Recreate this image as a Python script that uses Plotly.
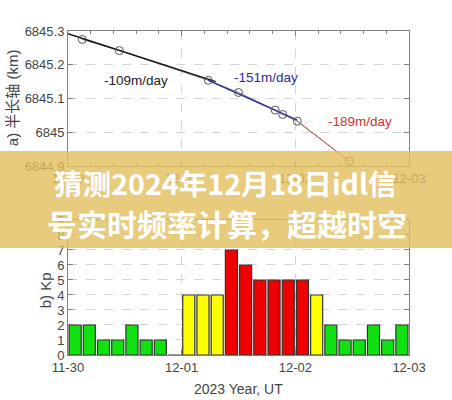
import plotly.graph_objects as go

# ---- data: semi-major axis (km) ----
sma_time = ["2023-11-30 03:00", "2023-11-30 10:50", "2023-12-01 05:37", "2023-12-01 12:00",
            "2023-12-01 19:45", "2023-12-01 21:20", "2023-12-02 00:25", "2023-12-02 11:22"]
sma_km = [6845.275, 6845.242, 6845.154, 6845.118, 6845.066, 6845.053, 6845.033, 6844.915]

fit1_time = ["2023-11-30 00:00", "2023-12-01 07:12"]
fit1_km = [6845.292, 6845.150]
fit2_time = ["2023-12-01 05:37", "2023-12-02 00:25"]
fit2_km = [6845.154, 6845.036]
fit3_time = ["2023-12-02 00:25", "2023-12-02 11:22"]
fit3_km = [6845.033, 6844.915]

rate_labels = ["-109m/day", "-151m/day", "-189m/day"]
rate_time = ["2023-11-30 14:24", "2023-12-01 17:45", "2023-12-02 13:45"]
rate_km = [6845.154, 6845.163, 6845.031]

# ---- data: Kp index ----
kp_time = ["2023-11-30 01:30", "2023-11-30 04:30", "2023-11-30 07:30", "2023-11-30 10:30",
           "2023-11-30 13:30", "2023-11-30 16:30", "2023-11-30 19:30", "2023-11-30 22:30",
           "2023-12-01 01:30", "2023-12-01 04:30", "2023-12-01 07:30", "2023-12-01 10:30",
           "2023-12-01 13:30", "2023-12-01 16:30", "2023-12-01 19:30", "2023-12-01 22:30",
           "2023-12-02 01:30", "2023-12-02 04:30", "2023-12-02 07:30", "2023-12-02 10:30",
           "2023-12-02 13:30", "2023-12-02 16:30", "2023-12-02 19:30", "2023-12-02 22:30"]
kp_values = [2, 2, 1, 1, 2, 1, 1, 0,
             4, 4, 4, 7, 6, 5, 5, 5,
             5, 4, 2, 1, 1, 2, 1, 2]

day_ticks = ["2023-11-30", "2023-12-01", "2023-12-02", "2023-12-03"]
day_labels = ["11-30", "12-01", "12-02", "12-03"]
sma_ticks = [6844.9, 6845.0, 6845.1, 6845.2, 6845.3]
sma_tick_labels = ["6844.9", "6845", "6845.1", "6845.2", "6845.3"]

title_line1 = "猜测2024年12月18日idl信"
title_line2 = "号实时频率计算，超越时空"


def kp_color(v):
    if v >= 5:
        return "#EE0000"
    if v >= 4:
        return "#FFFF00"
    return "#11E011"


fig = go.Figure()

fig.add_trace(go.Scatter(x=sma_time, y=sma_km, mode="lines", line=dict(color="#555555", width=0.8),
                         xaxis="x", yaxis="y", showlegend=False, hoverinfo="skip"))
fig.add_trace(go.Scatter(x=fit1_time, y=fit1_km, mode="lines", line=dict(color="#111111", width=1.3),
                         xaxis="x", yaxis="y", showlegend=False))
fig.add_trace(go.Scatter(x=fit2_time, y=fit2_km, mode="lines", line=dict(color="#2A2A9A", width=1.3),
                         xaxis="x", yaxis="y", showlegend=False))
fig.add_trace(go.Scatter(x=fit3_time, y=fit3_km, mode="lines", line=dict(color="#CC5555", width=1.0),
                         xaxis="x", yaxis="y", showlegend=False))
fig.add_trace(go.Scatter(x=sma_time, y=sma_km, mode="markers",
                         marker=dict(symbol="circle-open", size=8, color="#555555", line=dict(width=1)),
                         xaxis="x", yaxis="y", showlegend=False))

fig.add_trace(go.Bar(x=kp_time, y=kp_values, width=3 * 3600 * 1000 * 0.85,
                     marker=dict(color=[kp_color(v) for v in kp_values], line=dict(color="#333333", width=1.2)),
                     xaxis="x2", yaxis="y2", showlegend=False))

axis_common = dict(showline=True, linecolor="#808080", linewidth=1, mirror="ticks",
                   ticks="inside", ticklen=5, tickcolor="#808080",
                   showgrid=True, gridcolor="#d4d4d4", griddash="dash", gridwidth=1,
                   tickfont=dict(family="Liberation Sans, Arial", size=13, color="#444444"),
                   zeroline=False)

fig.update_layout(
    width=452, height=400,
    margin=dict(l=68, r=43, t=31, b=45),
    paper_bgcolor="white", plot_bgcolor="white",
    xaxis=dict(domain=[0, 1], anchor="y", type="date", range=["2023-11-30", "2023-12-03"],
               tickmode="array", tickvals=day_ticks, ticktext=day_labels,
               minor=dict(tickmode="linear", tick0="2023-11-30", dtick=17280000,
                          ticks="inside", ticklen=3, tickcolor="#808080", showgrid=False),
               **axis_common),
    yaxis=dict(domain=[0.583, 1], anchor="x", range=[6844.9, 6845.3],
               tickmode="array", tickvals=sma_ticks, ticktext=sma_tick_labels, **axis_common),
    xaxis2=dict(domain=[0, 1], anchor="y2", type="date", range=["2023-11-30", "2023-12-03"],
                tickmode="array", tickvals=day_ticks, ticktext=day_labels, **axis_common),
    yaxis2=dict(domain=[0, 0.4167], anchor="x2", range=[0, 9], tickmode="linear", dtick=1,
                **axis_common),
)

annots = []
rate_colors = ["#222222", "#2A2A9A", "#CC3333"]
for lbl, t, v, c in zip(rate_labels, rate_time, rate_km, rate_colors):
    annots.append(dict(x=t, y=v, xref="x", yref="y", text=lbl, showarrow=False,
                       font=dict(family="Liberation Sans, Arial", size=13.5, color=c)))

annots.append(dict(x=-0.164, y=0.793, xref="paper", yref="paper", text="a) 半长轴 (km)",
                   textangle=-90, showarrow=False, xanchor="center", yanchor="middle",
                   font=dict(family="Liberation Sans, Noto Sans CJK SC", size=15, color="#444444")))
annots.append(dict(x=-0.067, y=0.2, xref="paper", yref="paper", text="b) Kp",
                   textangle=-90, showarrow=False, xanchor="center", yanchor="middle",
                   font=dict(family="Liberation Sans, Arial", size=15, color="#444444")))
annots.append(dict(x=0.5, y=-0.105, xref="paper", yref="paper", text="2023 Year, UT",
                   showarrow=False, xanchor="center", yanchor="middle",
                   font=dict(family="Liberation Sans, Arial", size=14, color="#444444")))

# banner text
annots.append(dict(x=0.463, y=0.531, xref="paper", yref="paper", text="<b>" + title_line1 + "</b>",
                   showarrow=False, xanchor="center", yanchor="middle",
                   font=dict(family="Noto Sans CJK SC", size=28.6, color="white")))
annots.append(dict(x=0.466, y=0.407, xref="paper", yref="paper", text="<b>" + title_line2 + "</b>",
                   showarrow=False, xanchor="center", yanchor="middle",
                   font=dict(family="Noto Sans CJK SC", size=30, color="white")))

fig.update_layout(annotations=annots)

fig.add_shape(type="rect", xref="paper", yref="paper", x0=-0.2, x1=1.13, y0=0.3302, y1=0.6296,
              fillcolor="rgba(228,190,92,0.80)", line=dict(width=0), layer="above")

fig.write_html("out.html", config={"displayModeBar": False},
               post_script="document.body.style.margin='0';")
